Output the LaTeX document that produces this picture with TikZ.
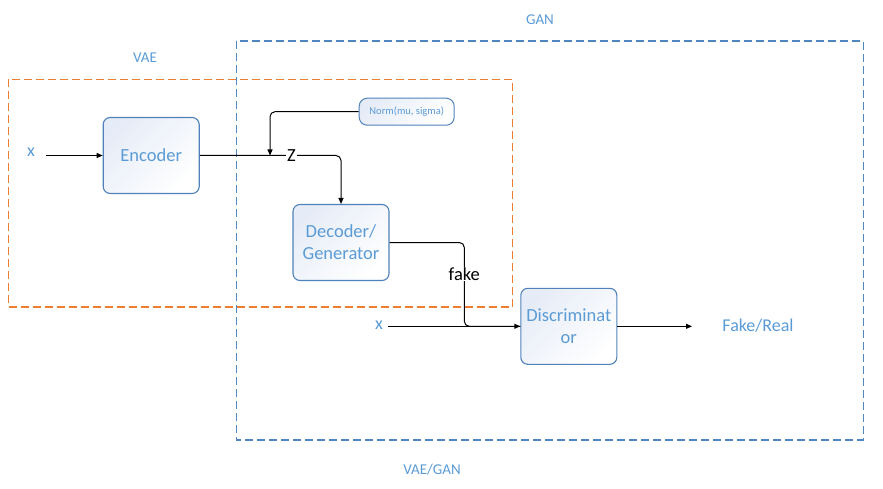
\documentclass[tikz,border=0pt]{standalone}
\usepackage{fontspec}
\setmainfont{Carlito}
\usetikzlibrary{arrows.meta}
\definecolor{lblblue}{RGB}{91,155,213}
\definecolor{boxline}{RGB}{80,130,185}
\definecolor{boxfill}{RGB}{230,236,247}
\definecolor{vaeorange}{RGB}{237,125,49}
\definecolor{ganblue}{RGB}{80,135,190}
\tikzset{
  blockbox/.style={draw=boxline, line width=1.1pt, rounded corners=7pt,
    top color=boxfill, bottom color=white, shading angle=45,
    minimum width=96pt, minimum height=76pt, inner sep=0pt,
    text=lblblue, align=center, font=\fontsize{18.5}{22}\selectfont},
  normbox/.style={draw=boxline, line width=1pt, rounded corners=8pt,
    top color=boxfill, bottom color=white, shading angle=45,
    minimum width=95pt, minimum height=27pt, inner sep=0pt,
    text=lblblue, font=\fontsize{10.5}{12}\selectfont},
  lbl/.style={text=lblblue, inner sep=0pt, font=\fontsize{15}{18}\selectfont},
  biglbl/.style={text=lblblue, inner sep=0pt, font=\fontsize{18}{21}\selectfont},
  linelbl/.style={fill=white, inner sep=1pt, text=black, font=\fontsize{18.5}{21}\selectfont},
  conn/.style={line width=1pt, rounded corners=5pt},
  arr/.style={-{Triangle[length=6pt,width=5pt]}},
  dashbox/.style={line width=1.3pt, dash pattern=on 8pt off 4pt}
}
\begin{document}
\begin{tikzpicture}[x=1pt,y=-1pt]
\useasboundingbox (0,0) rectangle (883,489);
% groups
\draw[dashbox, draw=vaeorange] (8.3,79.3) rectangle (512.3,307);
\draw[dashbox, draw=ganblue] (236.3,41) rectangle (863.3,440);
\node[lbl] (vae) at (145,58) {VAE};
\node[lbl] (gan) at (540,20) {GAN};
\node[lbl] (vaegan) at (432,470) {VAE/GAN};
% blocks
\node[blockbox] (enc) at (151.2,155.5) {Encoder};
\node[blockbox] (dec) at (341,242.5) {Decoder/\\Generator};
\node[blockbox] (disc) at (568.8,326.3) {Discriminat\\or};
\node[normbox] (norm) at (406.7,111.7) {Norm(mu, sigma)};
% inputs / outputs
\node[biglbl] (x1) at (31,152) {x};
\node[biglbl] (x2) at (379,325) {x};
\node[biglbl] (fr) at (758,326) {Fake/Real};
\coordinate (x1s) at (46,155.5);
\coordinate (x2s) at (388,326.3);
\coordinate (outend) at (692,326.3);
\coordinate (zin) at (270,155.5);
% connectors
\draw[conn, arr] (x1s) -- (enc.west);
\draw[conn, arr] (enc.east) -- (enc.east -| dec.north) -- (dec.north);
\draw[conn, arr] (norm.west) -- (norm.west -| zin) -- (zin);
\node[linelbl] (z) at (291.5,155.5) {Z};
\draw[conn] (dec.east) -- (464.3,242.5) -- (464.3,326.3) -- (disc.west);
\node[linelbl] (fake) at (464.3,274) {fake};
\draw[conn, arr] (x2s) -- (disc.west);
\draw[conn, arr] (disc.east) -- (outend);
\end{tikzpicture}
\end{document}
